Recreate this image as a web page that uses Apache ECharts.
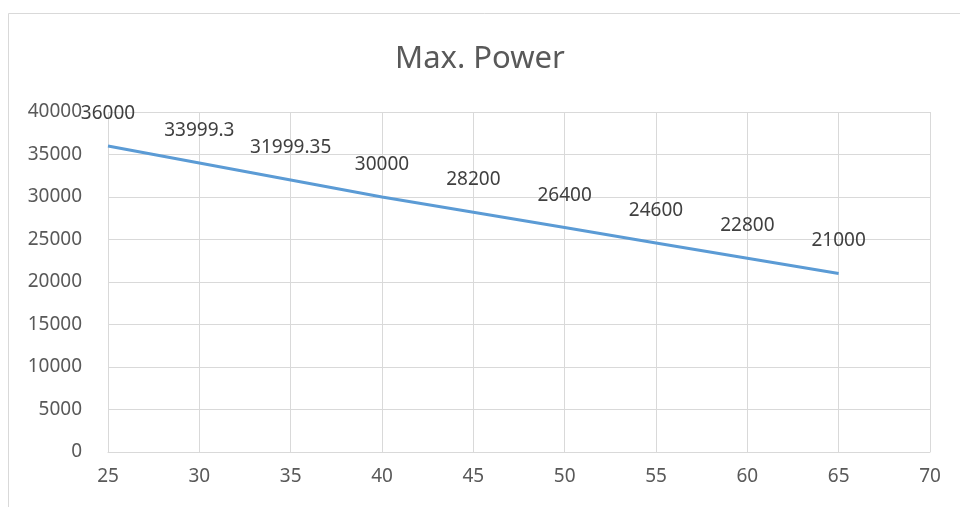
<!DOCTYPE html>
<html>
<head>
<meta charset="utf-8">
<script src="https://cdn.jsdelivr.net/npm/echarts@6/dist/echarts.min.js"></script>
<style>
html,body{margin:0;padding:0;background:#fff;}
#chart{width:960px;height:507px;}
</style>
</head>
<body>
<div id="chart"></div>
<script>
const title = "Max. Power";
const xValues = [25, 30, 35, 40, 45, 50, 55, 60, 65];
const powerValues = [36000, 33999.3, 31999.35, 30000, 28200, 26400, 24600, 22800, 21000];
const xMin = 25, xMax = 70, xStep = 5;
const yMin = 0, yMax = 40000, yStep = 5000;

const chart = echarts.init(document.getElementById('chart'), null, {renderer: 'canvas'});
const font = "'Noto Sans', 'Open Sans', sans-serif";
chart.setOption({
  backgroundColor: '#ffffff',
  animation: false,
  title: {
    text: title,
    left: 'center',
    top: 39,
    textStyle: {fontFamily: font, fontSize: 31, fontWeight: 'normal', color: '#595959'}
  },
  graphic: [{
    type: 'rect',
    shape: {x: 8.5, y: 13.5, width: 960, height: 520},
    style: {fill: 'none', stroke: '#d9d9d9', lineWidth: 1},
    silent: true
  }],
  grid: {left: 108, right: 30, top: 112, bottom: 55, containLabel: false},
  xAxis: {
    type: 'value',
    min: xMin, max: xMax, interval: xStep,
    axisLine: {show: true, lineStyle: {color: '#d9d9d9', width: 1}},
    axisTick: {show: false},
    splitLine: {show: true, lineStyle: {color: '#d9d9d9', width: 1}},
    axisLabel: {fontFamily: font, fontSize: 19, color: '#595959', margin: 15, formatter: v => String(v)}
  },
  yAxis: {
    type: 'value',
    min: yMin, max: yMax, interval: yStep,
    axisLine: {show: false},
    axisTick: {show: false},
    splitLine: {show: true, lineStyle: {color: '#d9d9d9', width: 1}},
    axisLabel: {fontFamily: font, fontSize: 19, color: '#595959', margin: 26, formatter: v => String(v)}
  },
  series: [{
    type: 'line',
    data: xValues.map((x, i) => [x, powerValues[i]]),
    showSymbol: true,
    showAllSymbol: true,
    symbol: 'circle',
    symbolSize: 2,
    itemStyle: {color: 'rgba(91,155,213,0)', borderWidth: 0},
    lineStyle: {color: '#5b9bd5', width: 3},
    label: {
      show: true,
      position: 'top',
      distance: 22,
      fontFamily: font,
      fontSize: 19,
      color: '#404040',
      opacity: 1,
      formatter: p => String(p.value[1])
    },
    labelLayout: {hideOverlap: false}
  }]
});
</script>
</body>
</html>
